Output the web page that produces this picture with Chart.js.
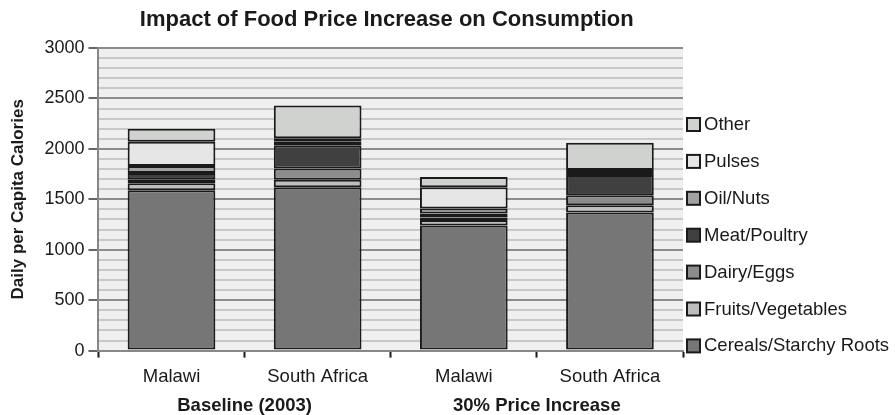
<!DOCTYPE html>
<html>
<head>
<meta charset="utf-8">
<script src="https://cdn.jsdelivr.net/npm/chart.js@4/dist/chart.umd.min.js"></script>
<style>
  html, body { margin: 0; padding: 0; background: #fff; }
  #wrap { width: 895px; height: 415px; position: relative; }
</style>
</head>
<body>
<div id="wrap"><canvas id="foodChart"></canvas></div>
<script>
// === data ===
const categories = ['Malawi', 'South Africa', 'Malawi', 'South Africa'];
const groups = ['Baseline (2003)', '30% Price Increase'];
const cereals = [1590, 1620, 1240, 1370];
const fruitsVeg = [70, 75, 55, 70];
const dairyEggs = [40, 110, 25, 100];
const meatPoultry = [60, 230, 40, 200];
const oilNuts = [70, 40, 50, 30];
const pulses = [240, 30, 210, 20];
const other = [130, 325, 100, 270];
const yMax = 3000;
const yStep = 100;
const yLabelStep = 500;

const FONT = '"Liberation Sans", Arial, sans-serif';

const series = [
    { label: 'Cereals/Starchy Roots', data: cereals, color: '#767676' },
    { label: 'Fruits/Vegetables', data: fruitsVeg, color: '#bebebe' },
    { label: 'Dairy/Eggs', data: dairyEggs, color: '#8c8c8c' },
    { label: 'Meat/Poultry', data: meatPoultry, color: '#404040' },
    { label: 'Oil/Nuts', data: oilNuts, color: '#a2a2a2' },
    { label: 'Pulses', data: pulses, color: '#e6e6e6' },
    { label: 'Other', data: other, color: '#d0d2d0' }
];

// plot background, title and legend
const backdrop = {
    id: 'backdrop',
    beforeDraw(chart) {
        const { ctx, chartArea: a } = chart;
        ctx.save();
        ctx.fillStyle = '#efefef';
        ctx.fillRect(a.left, a.top, a.right - a.left, a.bottom - a.top);
        ctx.restore();
    },
    afterDraw(chart) {
        const { ctx, chartArea: a } = chart;
        ctx.save();
        ctx.fillStyle = '#1a1a1a';
        ctx.font = 'bold 22px ' + FONT;
        ctx.textAlign = 'center';
        ctx.textBaseline = 'middle';
        ctx.fillText('Impact of Food Price Increase on Consumption', (a.left + a.right) / 2 - 4, 20);

        // legend, top item is the last series
        ctx.font = '18.5px ' + FONT;
        ctx.textAlign = 'left';
        const x0 = a.right + 4;
        let y = 124;
        for (let i = series.length - 1; i >= 0; i--) {
            ctx.fillStyle = series[i].color;
            ctx.fillRect(x0, y - 6, 13, 13);
            ctx.strokeStyle = '#1a1a1a';
            ctx.lineWidth = 2;
            ctx.strokeRect(x0, y - 6, 13, 13);
            ctx.fillStyle = '#1a1a1a';
            ctx.fillText(series[i].label, x0 + 17, y + 1);
            y += 36.9;
        }
        ctx.restore();
    }
};

new Chart(document.getElementById('foodChart'), {
    type: 'bar',
    data: {
        labels: categories,
        datasets: series.map(s => ({
            label: s.label,
            data: s.data,
            backgroundColor: s.color,
            borderColor: '#1a1a1a',
            borderWidth: 2,
            borderSkipped: false,
            barPercentage: 0.6,
            categoryPercentage: 1
        }))
    },
    options: {
        responsive: true,
        maintainAspectRatio: false,
        animation: false,
        layout: { padding: { top: 48, right: 212, left: 8, bottom: -1 } },
        plugins: {
            legend: { display: false },
            tooltip: { enabled: false }
        },
        scales: {
            x: {
                stacked: true,
                offset: true,
                grid: {
                    drawOnChartArea: false,
                    tickLength: 7,
                    tickColor: '#1a1a1a',
                    tickWidth: 2
                },
                border: { color: '#888', width: 2 },
                ticks: {
                    color: '#1a1a1a',
                    font: { family: FONT, size: 18.5 },
                    padding: 8
                }
            },
            x2: {
                type: 'category',
                labels: groups,
                position: 'bottom',
                offset: true,
                grid: { display: false, drawTicks: false },
                border: { display: false },
                ticks: {
                    color: '#1a1a1a',
                    font: { family: FONT, size: 18.5, weight: 'bold' },
                    padding: -1
                }
            },
            y: {
                stacked: true,
                min: 0,
                max: yMax,
                border: { color: '#888', width: 2 },
                grid: {
                    color: ctx => (ctx.tick && ctx.tick.value % yLabelStep === 0) ? '#8c8c8c' : '#c8c8c8',
                    lineWidth: 2,
                    tickLength: 10,
                    tickColor: ctx => (ctx.tick && ctx.tick.value % yLabelStep === 0) ? '#666' : 'rgba(0,0,0,0)'
                },
                ticks: {
                    stepSize: yStep,
                    autoSkip: false,
                    color: '#1a1a1a',
                    font: { family: FONT, size: 18 },
                    padding: 4,
                    callback: function(value) {
                        return value % yLabelStep === 0 ? value : '';
                    }
                },
                title: {
                    display: true,
                    text: 'Daily per Capita Calories',
                    color: '#1a1a1a',
                    font: { family: FONT, size: 17, weight: 'bold' },
                    padding: { top: 0, bottom: 12 }
                }
            }
        }
    },
    plugins: [backdrop]
});
</script>
</body>
</html>
